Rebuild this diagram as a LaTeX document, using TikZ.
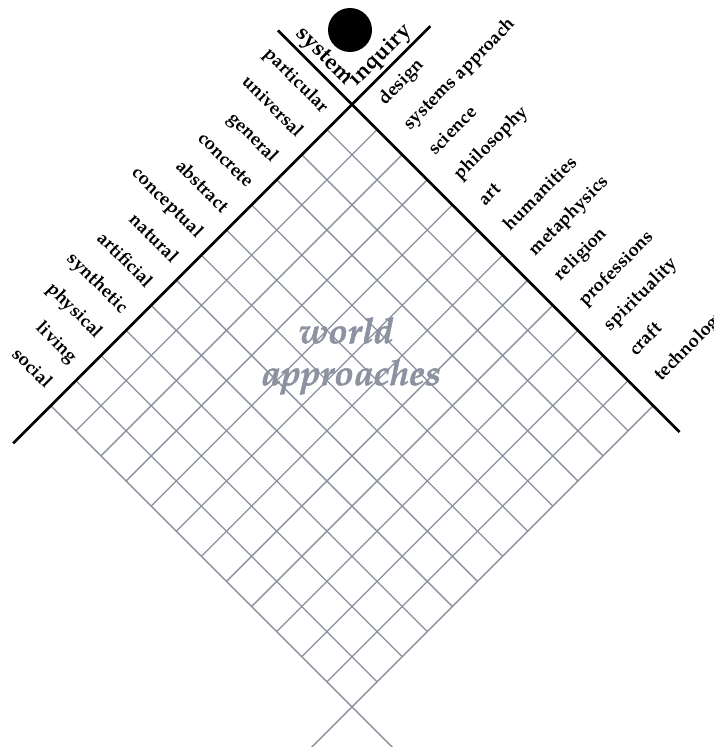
\documentclass[tikz,border=0pt]{standalone}
\usepackage{fontspec}
\setmainfont{TeX Gyre Pagella}
\newfontface\bigface[FakeBold=1.4]{texgyrepagella-bolditalic.otf}
\definecolor{gridgray}{RGB}{138,144,158}
\definecolor{textgray}{RGB}{140,146,160}
\begin{document}
\begin{tikzpicture}[x=1pt,y=-1pt,
  gridline/.style={draw=gridgray, line width=1.3pt},
  blackline/.style={draw=black, line width=2.8pt},
  lbl/.style={font=\fontsize{18.5}{20}\selectfont\bfseries, inner sep=0pt},
  leftlabel/.style={lbl, rotate=-45, anchor=base east},
  rightlabel/.style={lbl, rotate=45, anchor=base west},
  titlefont/.style={font=\fontsize{22.5}{24}\selectfont\bfseries, inner sep=0pt},
  bigtext/.style={font=\bigface\fontsize{35.5}{40}\selectfont, text=textgray, inner sep=0pt, anchor=base}]
\useasboundingbox (0,0) rectangle (714,747);
\begin{scope}[shift={(352pt,-104.5pt)}, x={(25.1pt,-25.1pt)}, y={(-25.1pt,-25.1pt)}]
  % grid
  \foreach \k in {1,...,11} {
    \draw[gridline] (\k,0) -- (\k,12);
    \draw[gridline] (0,\k) -- (12,\k);
  }
  \coordinate (R) at (12,0);
  \coordinate (L) at (0,12);
  \coordinate (Rext) at (12,13.7);
  \coordinate (Lext) at (13.7,12);
  \draw[gridline] (R) -- (Rext);
  \draw[gridline] (L) -- (Lext);
  % black axes
  \coordinate (apex) at (0,0);
  \coordinate (Atop) at (-2.95,0);
  \coordinate (Abot) at (13.05,0);
  \coordinate (Btop) at (0,-3.12);
  \coordinate (Bbot) at (0,13.5);
  \draw[blackline] (Atop) -- (Abot);
  \draw[blackline] (Btop) -- (Bbot);
  % title
  \node[titlefont, rotate=-45, anchor=base east] (tsys) at (-0.5,-0.26) {system};
  \node[titlefont, rotate=45, anchor=base west] (tinq) at (-0.26,-0.45) {inquiry};
  % left labels
  \foreach \t [count=\k] in {particular, universal, general, concrete, abstract, conceptual, natural, artificial, synthetic, physical, living, social}
    \node[leftlabel] (l\k) at (-0.42,\k-0.23) {\t};
  % right labels
  \foreach \t [count=\k] in {design, systems approach, science, philosophy, art, humanities, metaphysics, religion, professions, spirituality, craft, technology}
    \node[rightlabel] (r\k) at (\k-0.32,-0.63) {\t};
\end{scope}
\node[circle, fill=black, minimum size=44pt, inner sep=0pt] (dot) at (350,30) {};
\node[bigtext] (w1) at (346,343) {world};
\node[bigtext] (w2) at (351,385) {approaches};
\end{tikzpicture}
\end{document}
